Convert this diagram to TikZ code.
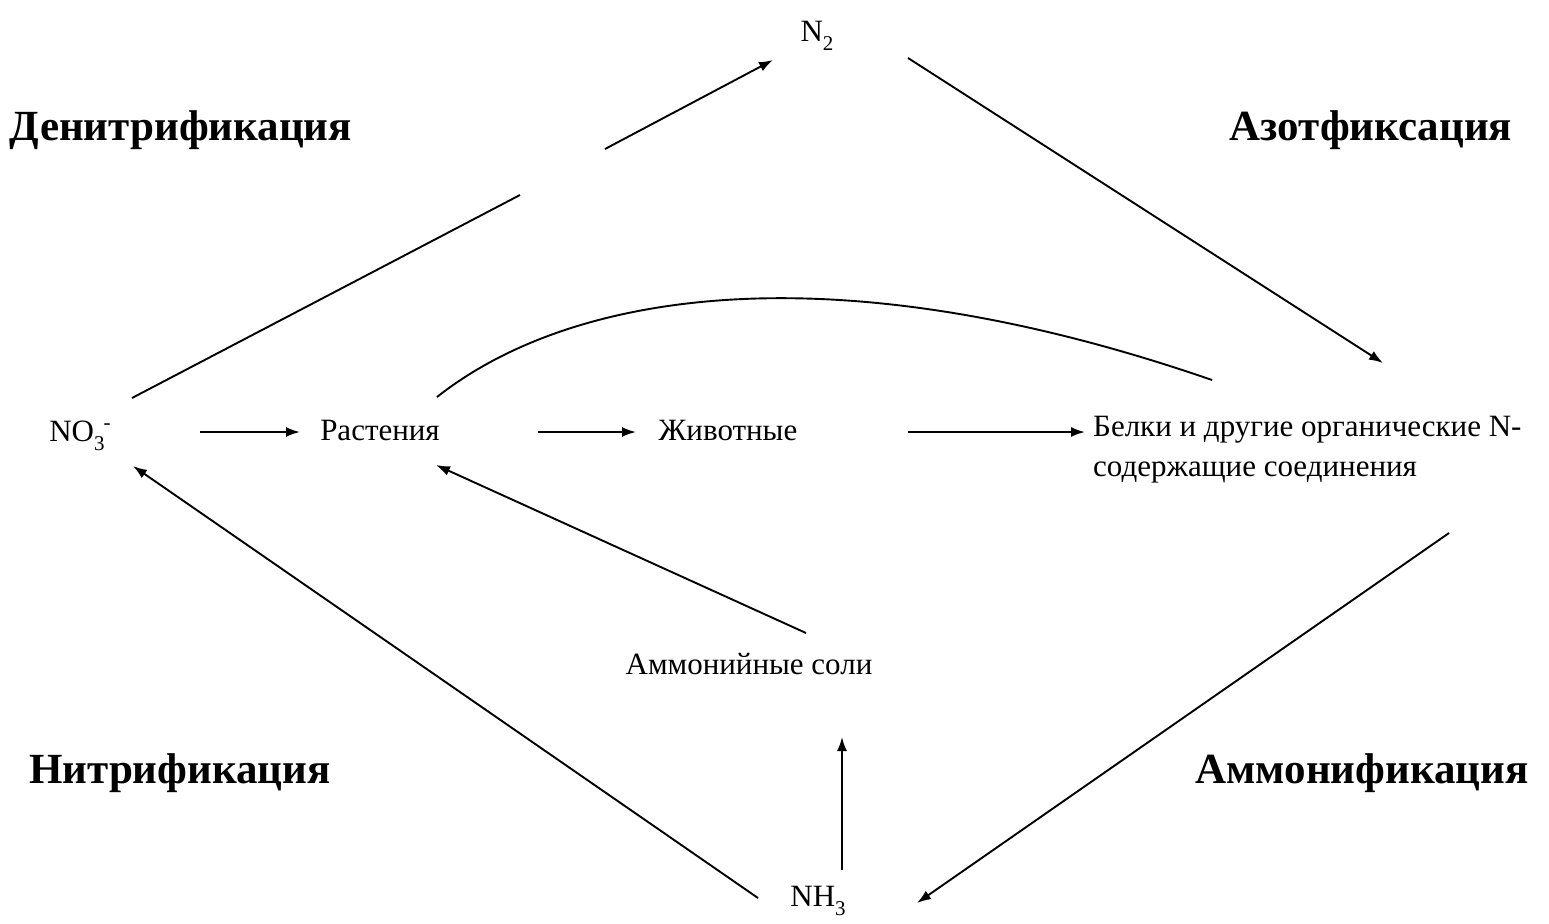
\documentclass[tikz,border=0pt]{standalone}
\usepackage{fontspec}
\setmainfont{Liberation Serif}
\usetikzlibrary{arrows.meta}
\newcommand{\lowidx}[1]{\raisebox{-9pt}{\fontsize{21}{21}\selectfont #1}}
\newcommand{\highidx}[1]{\raisebox{12pt}{\fontsize{21}{21}\selectfont #1}}
\begin{document}
\begin{tikzpicture}[x=1pt,y=-1pt,
  lbl/.style={inner sep=0pt,font=\fontsize{31}{40}\selectfont},
  proc/.style={inner sep=0pt,font=\fontsize{43}{50}\selectfont\bfseries},
  conn/.style={line width=1.9pt},
  arr/.style={conn,-{Latex[length=14pt,width=10pt]}}]
\useasboundingbox (0,0) rectangle (1549,923);
\node[lbl,anchor=base] (n2) at (817,42) {N\lowidx{2}};
\node[lbl,anchor=base] (no3) at (80,441) {NO\lowidx{3}\kern-1pt\highidx{-}};
\node[lbl] (rast) at (380,430) {Растения};
\node[lbl] (zhiv) at (728,430) {Животные};
\node[lbl,align=left,anchor=west] (belki) at (1093,450) {Белки и другие органические N-\\содержащие соединения};
\node[lbl] (amm) at (749,664) {Аммонийные соли};
\node[lbl,anchor=base] (nh3) at (818,906) {NH\lowidx{3}};
\node[proc] (den) at (181,130) {Денитрификация};
\node[proc] (azot) at (1371,130) {Азотфиксация};
\node[proc] (nitr) at (180,773) {Нитрификация};
\node[proc] (ammf) at (1362,773) {Аммонификация};
% coordinates for connector ends
\coordinate (a1) at (200,432); \coordinate (a2) at (300,432);
\coordinate (b1) at (538,432); \coordinate (b2) at (636,432);
\coordinate (c1) at (908,432); \coordinate (c2) at (1085,432);
\coordinate (d1) at (908,58);  \coordinate (d2) at (1383,363);
\coordinate (e1) at (1449,533); \coordinate (e2) at (917,903);
\coordinate (f1) at (758,898); \coordinate (f2) at (133,466);
\coordinate (g1) at (842,870); \coordinate (g2) at (842,737);
\coordinate (h1) at (806,633); \coordinate (h2) at (436,465);
\coordinate (i1) at (132,398); \coordinate (i2) at (520,195);
\coordinate (j1) at (605,149); \coordinate (j2) at (773,60);
\coordinate (k1) at (437,397); \coordinate (k2) at (1212,380);
\draw[arr] (a1) -- (a2);
\draw[arr] (b1) -- (b2);
\draw[arr] (c1) -- (c2);
\draw[arr] (d1) -- (d2);
\draw[arr] (e1) -- (e2);
\draw[arr] (f1) -- (f2);
\draw[arr] (g1) -- (g2);
\draw[arr] (h1) -- (h2);
\draw[conn] (i1) -- (i2);
\draw[arr] (j1) -- (j2);
\draw[conn] (k1) .. controls (570,292) and (830,248) .. (k2);
\end{tikzpicture}
\end{document}
